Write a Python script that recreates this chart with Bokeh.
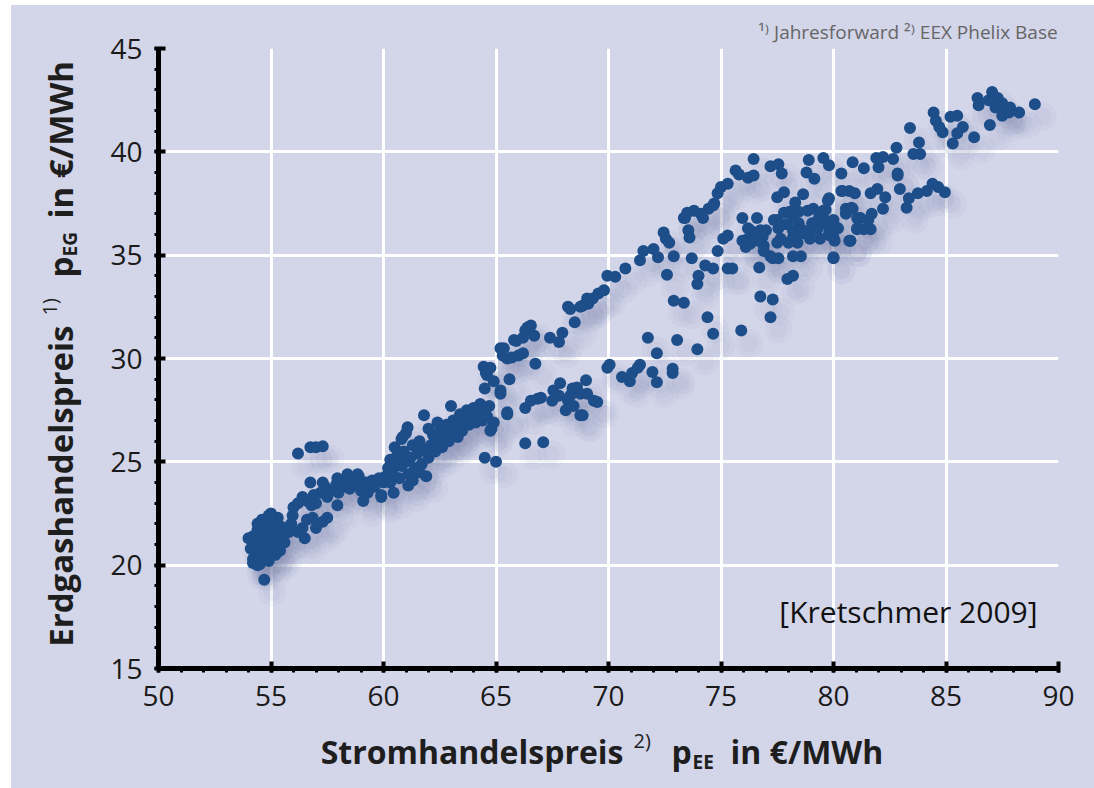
from bokeh.plotting import figure
from bokeh.models import Range1d, SingleIntervalTicker, Label, Spacer, ColumnDataSource, Title
from bokeh.layouts import column, row
from bokeh.embed import file_html
from bokeh.resources import INLINE
import math

# ---- data: Stromhandelspreis (x, EUR/MWh) vs Erdgashandelspreis (y, EUR/MWh) ----
blob_x = [54.2,54.3,54.4,54.5,54.6,54.3,54.2,54.4,54.5,54.6,54.7,54.8,54.9,55.0,54.8,55.0,55.1,55.2,55.3,55.4,
          55.1,54.9,54.6,54.4,55.5,55.6,55.2,55.4,54.7,54.1,54.5,54.7,55.3,55.0,54.8,55.6,55.8,55.9,54.4,54.9,
          54.0,54.2,55.0]
blob_y = [20.3,20.6,20.2,20.5,20.8,21.0,21.4,21.7,21.2,21.5,21.9,22.1,21.7,21.3,20.9,20.6,20.9,21.2,21.6,21.9,
          22.2,22.4,22.2,22.0,21.4,21.8,20.5,20.7,20.4,20.8,20.05,19.3,22.3,22.0,21.3,21.1,21.6,22.0,20.0,20.2,
          21.3,20.1,22.5]

band_x = [55.96,56.4,56.6,56.85,56.5,56.2,57.3,57.5,57.0,
          56.0,56.2,56.4,56.6,56.8,56.9,57.0,57.2,57.4,57.5,57.7,57.9,58.0,58.2,58.3,58.5,58.6,58.8,58.9,59.0,
          59.2,59.3,59.5,59.6,59.8,60.0,56.75,57.3,57.95,58.4,58.85,57.95,59.1,59.9,60.45,61.1,59.9,
          56.2,56.75,57.0,57.3]
band_y = [22.4,21.8,22.2,22.3,21.3,21.6,22.1,22.3,21.8,
          22.8,23.0,23.3,23.1,22.9,23.4,23.0,23.5,23.8,23.3,23.6,23.9,23.5,23.8,24.1,23.7,24.2,23.9,24.3,23.6,
          24.0,23.5,24.1,23.8,24.2,24.0,24.0,24.0,24.2,24.4,24.4,22.9,23.1,23.4,23.5,23.85,23.3,
          25.4,25.7,25.7,25.75]

mid_x = [60.1,60.2,60.3,60.4,60.5,60.6,60.7,60.8,60.9,61.0,61.1,61.2,61.3,61.4,61.5,61.6,61.7,61.8,61.9,62.0,
         60.5,60.8,61.0,61.07,61.8,60.85,60.3,61.3,61.6,
         62.1,62.2,62.3,62.4,62.5,62.6,62.7,62.8,62.9,63.0,63.1,63.2,63.3,63.4,63.5,63.6,63.7,63.8,63.9,64.0,
         64.1,64.2,64.3,64.4,64.5,64.6,64.7,64.8,64.9,62.0,62.4,63.0,64.5,65.0,64.75,63.3,62.65]
mid_y = [24.3,24.7,25.1,24.5,24.9,25.3,24.2,24.8,25.5,25.0,24.4,25.2,25.8,24.7,25.4,26.0,24.9,25.6,24.3,25.2,
         25.7,26.1,26.4,26.67,27.25,26.2,24.0,24.1,24.5,
         25.8,26.3,25.5,26.0,26.5,25.7,26.2,26.8,26.0,26.5,27.0,26.3,26.8,27.3,26.5,27.0,27.5,26.8,27.2,27.6,
         26.9,27.4,27.8,27.0,27.5,27.2,27.7,26.6,26.9,26.6,26.9,27.7,25.2,25.0,26.5,26.2,26.4]

upper_x = [64.45,64.6,64.9,64.75,64.55,65.2,65.3,65.5,65.7,66.0,65.8,66.3,66.55,66.7,66.2,64.5,65.2,65.2,65.6,
           66.75,67.4,67.8,67.95,68.2,68.5,68.75,69.1,69.3,69.55,69.8,65.35,65.9,66.4,66.2,68.3,68.85,69.05,
           69.95,70.3,70.75,71.4,71.55,72.0,72.2,72.45,72.55,72.7,73.35,73.5,73.8,74.1,74.2,74.45,74.7,74.85,
           75.0,75.3,75.65,75.8,76.2,76.45,76.45,77.2,77.55,77.7,78.9,79.55,79.8,80.85,81.35,81.9,82.2,82.65,
           82.85,78.8,79.15,80.35,74.65,73.4,
           83.4,83.8,82.8,83.55,83.85,82.0,84.45,84.55,84.7,84.85,85.2,85.5,85.75,85.5,85.3,86.4,86.45,86.9,
           87.05,87.3,87.2,87.5,87.65,87.5,87.8,87.85,88.25,88.95,86.95,86.25]
upper_y = [29.6,29.2,28.9,29.55,29.3,30.5,30.15,30.0,30.05,30.15,30.9,31.35,31.6,31.1,31.0,28.55,28.45,28.3,29.0,
           29.75,31.0,30.8,31.25,32.5,31.75,32.5,32.65,32.9,33.15,33.3,30.5,30.85,31.5,30.25,32.4,32.55,32.9,
           34.0,33.95,34.35,34.75,35.2,35.3,34.9,36.1,35.8,35.6,36.8,37.05,37.15,37.0,36.8,37.25,37.5,38.0,
           38.3,38.45,39.1,38.9,38.75,38.85,39.65,39.3,39.4,38.95,39.6,39.7,39.35,39.5,39.2,39.7,39.75,39.65,
           38.95,39.0,38.7,38.95,37.4,36.8,
           41.15,40.45,40.2,39.9,39.9,39.25,41.9,41.5,41.2,40.95,41.7,41.75,41.2,40.9,40.4,42.6,42.25,42.5,
           42.9,42.6,42.15,42.35,42.1,41.75,41.9,42.15,41.9,42.3,41.3,40.7]

lower_x = [65.5,66.3,66.55,66.85,67.0,67.5,67.55,67.85,67.8,68.2,68.3,68.4,68.6,68.75,69.0,69.05,69.35,69.5,
           68.1,68.45,68.75,68.85,65.5,66.3,67.1,
           69.95,70.05,70.6,70.95,71.05,71.3,71.4,71.95,72.15,72.15,71.75,72.85,72.85,73.05,72.9,73.35,73.95,
           74.4,74.65,75.9,76.75,77.3,77.2,
           72.6,72.9,73.55,73.6,73.7,74.0,73.95,74.3,74.65,74.85,75.1,75.3,75.3,75.5]
lower_y = [27.3,27.6,27.95,28.05,28.1,27.95,28.45,28.8,28.2,27.95,28.2,28.55,28.6,28.3,28.95,28.3,27.95,27.9,
           27.5,27.7,27.25,27.25,27.4,25.9,25.95,
           29.55,29.7,29.1,28.9,29.3,29.55,29.7,29.35,28.85,30.25,31.0,29.3,29.5,30.9,32.8,32.7,30.45,
           32.0,31.2,31.35,33.0,32.85,32.0,
           34.05,34.95,36.2,35.85,34.85,34.0,33.6,34.5,34.35,35.2,35.8,35.95,34.35,34.35]

cluster_x = [76.1,76.2,76.3,76.6,76.9,77.0,76.7,77.2,77.3,77.55,77.5,78.0,77.95,78.2,78.2,78.55,78.2,78.6,78.95,
             79.4,79.85,80.0,80.75,81.05,
             75.95,76.6,77.5,77.8,78.3,78.65,79.8,80.4,80.7,80.95,80.55,80.8,81.05,
             77.5,77.8,78.05,78.2,78.45,78.85,79.1,79.35,79.55,79.7,80.0,80.2,
             76.2,76.75,76.85,77.35,77.55,77.9,78.45,78.65,79.05,79.3,79.8,80.0,75.95,76.3,76.65,76.9,77.65,
             78.2,78.4,78.95,79.4,80.75,
             80.35,81.65,81.95,82.3,82.2,81.7,81.55,81.2,80.85,80.55,81.05,81.35,81.65,80.7,80.0,79.75,79.65,
             79.55,80.0,79.85,80.05,
             82.85,82.95,83.35,83.25,83.75,84.15,84.4,84.65,84.95]
cluster_y = [35.4,35.8,36.2,36.1,35.45,36.2,34.4,34.95,34.85,34.85,35.6,35.6,33.85,34.0,34.95,34.95,36.2,36.05,36.05,
             36.5,35.95,34.9,35.7,36.3,
             36.8,36.8,37.8,38.05,37.55,37.95,37.75,38.1,38.1,38.0,37.25,37.3,36.8,
             36.7,37.05,37.1,36.8,37.1,37.15,37.25,36.8,37.15,36.5,36.7,36.3,
             36.3,36.2,35.9,36.7,36.3,36.5,36.55,36.2,36.55,36.3,36.05,35.85,35.7,35.55,35.7,35.2,35.8,
             35.85,35.6,35.8,35.8,35.7,
             38.1,38.0,38.2,37.8,37.25,37.0,36.7,36.8,37.25,37.0,36.25,36.25,36.25,35.7,34.85,37.65,37.2,
             36.8,36.5,35.95,35.7,
             38.85,38.2,37.75,37.3,38.0,38.1,38.45,38.3,38.05]

x_ticks_interval = 5
y_ticks_interval = 5

strom = blob_x + band_x + mid_x + upper_x + lower_x + cluster_x
gas = blob_y + band_y + mid_y + upper_y + lower_y + cluster_y

BG = "#d3d5e9"
DOT = "#1d4e89"
FONT = "Open Sans"

# ---------------- main plot ----------------
p = figure(width=993, height=723, frame_width=900, frame_height=620,
           output_backend="svg", toolbar_location=None,
           x_range=Range1d(50, 90), y_range=Range1d(15, 45),
           min_border_left=57, min_border_right=36, min_border_top=43, min_border_bottom=60)
p.background_fill_color = BG
p.border_fill_color = BG
p.outline_line_color = None

p.xaxis.ticker = SingleIntervalTicker(interval=x_ticks_interval, num_minor_ticks=5)
p.yaxis.ticker = SingleIntervalTicker(interval=y_ticks_interval, num_minor_ticks=5)
for ax in (p.xaxis[0], p.yaxis[0]):
    ax.axis_line_width = 5
    ax.axis_line_color = "black"
    ax.major_tick_line_width = 4
    ax.major_tick_line_color = "black"
    ax.major_tick_in = 7
    ax.major_tick_out = 4
    ax.minor_tick_line_width = 3
    ax.minor_tick_line_color = "black"
    ax.minor_tick_in = 0
    ax.minor_tick_out = 4
    ax.major_label_text_font = FONT
    ax.major_label_text_font_size = "28px"
    ax.major_label_text_color = "#1a1a1a"
    ax.major_label_text_font_style = "normal"
p.xaxis.major_label_standoff = 13
p.yaxis.major_label_standoff = 12

p.xgrid.ticker = p.xaxis[0].ticker
p.ygrid.ticker = p.yaxis[0].ticker
for g in (p.xgrid[0], p.ygrid[0]):
    g.grid_line_color = "white"
    g.grid_line_width = 3

src = ColumnDataSource(dict(x=strom, y=gas))
shadow = ColumnDataSource(dict(x=[v + 0.35 for v in strom], y=[v - 0.6 for v in gas]))
p.scatter("x", "y", source=shadow, size=28, fill_color="#7d82a8", fill_alpha=0.05, line_color=None)
p.scatter("x", "y", source=shadow, size=18, fill_color="#7d82a8", fill_alpha=0.07, line_color=None)
p.scatter("x", "y", source=src, size=12, fill_color=DOT, line_color=None)

p.add_layout(Title(text="¹⁾ Jahresforward   ²⁾ EEX Phelix Base", align="right",
                   text_font=FONT, text_font_size="19px", text_font_style="normal",
                   text_color="#666666", standoff=7, offset=-9), "above")


def lab(fig, text, x, y, size, bold=True, align="left", angle=0.0, color="#1e1e1e"):
    # x, y in screen pixels relative to the figure frame (left / bottom edge)
    fig.add_layout(Label(x=x, y=y, x_units="screen", y_units="screen", text=text,
                         text_font=FONT, text_font_size=size,
                         text_font_style="bold" if bold else "normal", text_align=align,
                         text_baseline="alphabetic", angle=angle, text_color=color))


lab(p, "[Kretschmer 2009]", 879, 57, "30px", bold=False, align="right", color="#111111")


def blank(w, h):
    f = figure(width=w, height=h, output_backend="svg", toolbar_location=None,
               x_range=Range1d(0, 1), y_range=Range1d(0, 1),
               x_axis_location=None, y_axis_location=None,
               min_border=0, min_border_left=0, min_border_right=0, min_border_top=0, min_border_bottom=0)
    f.background_fill_color = BG
    f.border_fill_color = BG
    f.outline_line_color = None
    f.grid.visible = False
    return f


# ---------------- y title panel (frame aligned with main frame) ----------------
yf = blank(90, 723)
a = math.pi / 2
lab(yf, "Erdgashandelspreis", 49, 343, "33px", align="right", angle=a)
lab(yf, "1)", 38, 353, "20px", bold=False, angle=a)
lab(yf, "p", 49, 391, "33px", angle=a)
lab(yf, "EG", 58, 412, "19px", angle=a)
lab(yf, "in €/MWh", 49, 450, "33px", angle=a)

# ---------------- x title panel ----------------
xf = blank(1083, 60)
lab(xf, "Stromhandelspreis", 612, 37, "32px", align="right")
lab(xf, "2)", 622, 48, "20px", bold=False)
lab(xf, "p", 660, 37, "32px")
lab(xf, "EE", 681, 27, "19px")
lab(xf, "in €/MWh", 719, 37, "32px")

bgstyle = {"background-color": BG}
inner = column(row(yf, p, styles=bgstyle), xf, styles=bgstyle)
layout = column(Spacer(height=5), row(Spacer(width=11), inner))
open("out.html", "w").write(file_html(layout, INLINE))
